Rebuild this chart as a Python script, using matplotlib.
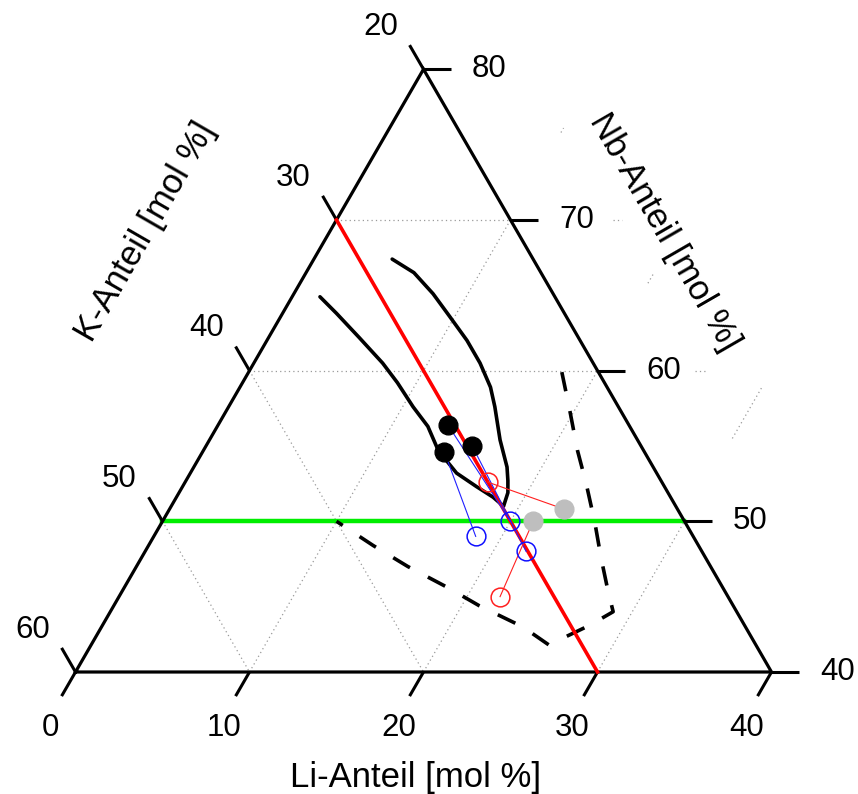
import numpy as np
import matplotlib
matplotlib.use("Agg")
import matplotlib.pyplot as plt

plt.rcParams['font.family'] = ['Liberation Sans', 'DejaVu Sans']

# compositions in mol %, given as (Li, Nb); K = 100 - Li - Nb
grid_nb = [60, 70]
grid_k = [40, 50]
grid_li = [10, 20, 30]

tick_li = [0, 10, 20, 30, 40]
tick_k = [20, 30, 40, 50, 60]
tick_nb = [40, 50, 60, 70, 80]

# solid phase boundary (one branch down, other branch back up)
bound_li = [1.6, 3.1, 5.2, 7.4, 8.9, 10.6, 12.1, 13.5, 15.3, 16.9, 18.2, 19.1,
            18.9, 18.5, 18.0, 16.7, 15.3, 14.4, 13.0, 11.5, 9.7, 8.0, 6.2, 4.5]
bound_nb = [64.9, 63.8, 62.2, 60.5, 59.2, 57.6, 56.3, 54.7, 53.2, 52.3, 51.6, 51.0,
            51.9, 52.7, 53.6, 55.4, 57.6, 58.9, 60.5, 62.0, 63.6, 65.1, 66.5, 67.4]

# dashed region
dash_li = [18.0, 19.7, 21.5, 23.1, 24.9, 26.4, 27.9, 28.9, 28.0, 26.3,
           24.2, 21.0, 18.6, 15.6, 12.9, 10.0]
dash_nb = [59.9, 57.4, 54.7, 52.5, 49.9, 47.6, 45.4, 44.0, 43.1, 41.8,
           43.0, 44.4, 45.6, 47.0, 48.4, 50.0]

# start compositions -> measured compositions
black_li = [13.2, 15.3, 13.9]
black_nb = [56.4, 55.0, 54.6]
blue_li = [20.0, 21.9, 18.5]
blue_nb = [50.0, 48.0, 49.0]

grey_li = [22.7, 21.3]
grey_nb = [50.8, 50.0]
red_li = [17.4, 21.9]
red_nb = [52.6, 45.0]

S3 = np.sqrt(3) / 2


def tern(li, nb):
    li = np.asarray(li, float)
    b = np.asarray(nb, float) - 40
    return li + b / 2, b * S3


fig = plt.figure(figsize=(8.58, 7.94), dpi=100)
ax = fig.add_axes([0, 0, 1, 1])
ax.set_xlim(-75.5 / 17.4, (858 - 75.5) / 17.4)
ax.set_ylim(-(794 - 672) / 17.4, 672 / 17.4)
ax.axis('off')

gkw = dict(color='#9a9a9a', lw=0.9, ls=(0, (1, 2.5)), zorder=1)
for nb in grid_nb:
    ax.plot(*tern([0, 80 - nb], [nb, nb]), **gkw)
for k in grid_k:
    ax.plot(*tern([0, 60 - k], [100 - k, 40]), **gkw)
for li in grid_li:
    ax.plot(*tern([li, li], [40, 80 - li]), **gkw)
# short pieces of the grid outside the frame
ax.plot(*tern([30, 30], [55.5, 59.0]), **gkw)
ax.plot(*tern([20, 20], [65.8, 66.4]), **gkw)
ax.plot(*tern([10, 10], [75.8, 76.1]), **gkw)
ax.plot(*tern([15.9, 16.4], [70, 70]), **gkw)
ax.plot(*tern([25.6, 26.3], [60, 60]), **gkw)

# frame
ax.plot(*tern([0, 40, 0, 0], [40, 40, 80, 40]), color='black', lw=2.3,
        solid_joinstyle='miter', zorder=3)

tl = 1.6
tkw = dict(color='black', lw=2.2, zorder=3, solid_capstyle='butt')
fs = 22.5
for li in tick_li:
    x, y = tern(li, 40)
    ax.plot([x, x - 0.5 * tl], [y, y - S3 * tl], **tkw)
    ax.annotate(str(li), (x, y), xytext=(-18, -40), textcoords='offset points',
                ha='center', va='center', fontsize=fs)
for k in tick_k:
    x, y = tern(0, 100 - k)
    ax.plot([x, x - 0.5 * tl], [y, y + S3 * tl], **tkw)
    ax.annotate(str(k), (x, y), xytext=(-31, 30.5), textcoords='offset points',
                ha='center', va='center', fontsize=fs)
for nb in tick_nb:
    x, y = tern(80 - nb, nb)
    ax.plot([x, x + tl], [y, y], **tkw)
    ax.annotate(str(nb), (x, y), xytext=(47.5, 0), textcoords='offset points',
                ha='center', va='center', fontsize=fs)

# Nb = 50 and K = 30 lines
ax.plot(*tern([0, 30], [50, 50]), color='#00ee00', lw=3.2, zorder=2)
ax.plot(*tern([0, 30], [70, 40]), color='red', lw=2.6, zorder=4)

ax.plot(*tern(bound_li, bound_nb), color='black', lw=2.6, zorder=3,
        solid_joinstyle='round', solid_capstyle='round')
ax.plot(*tern(dash_li, dash_nb), color='black', lw=2.6, zorder=3,
        dashes=(5.4, 5.6))

for i in range(len(black_li)):
    ax.plot(*tern([black_li[i], blue_li[i]], [black_nb[i], blue_nb[i]]),
            color='#2020ff', lw=0.8, zorder=5)
for i in range(len(grey_li)):
    ax.plot(*tern([grey_li[i], red_li[i]], [grey_nb[i], red_nb[i]]),
            color='#ff2020', lw=0.8, zorder=5)

ax.plot(*tern(black_li, black_nb), 'o', ms=13.5, color='black', zorder=6)
ax.plot(*tern(grey_li, grey_nb), 'o', ms=13.5, color='#bebebe', zorder=6)
ax.plot(*tern(blue_li, blue_nb), 'o', ms=13.5, mfc='none', mec='#1010ff',
        mew=1.1, zorder=6)
ax.plot(*tern(red_li, red_nb), 'o', ms=13.5, mfc='none', mec='#ff2020',
        mew=1.1, zorder=6)

tfs = 25
fig.text(416 / 858, 1 - 778 / 794, 'Li-Anteil [mol %]', ha='center', va='center',
         fontsize=tfs)
fig.text(145 / 858, 1 - 232 / 794, 'K-Anteil [mol %]', ha='center', va='center',
         fontsize=tfs, rotation=60, rotation_mode='anchor')
fig.text(664 / 858, 1 - 232 / 794, 'Nb-Anteil [mol %]', ha='center', va='center',
         fontsize=tfs, rotation=-60, rotation_mode='anchor')

fig.savefig('out.png', dpi=100)
